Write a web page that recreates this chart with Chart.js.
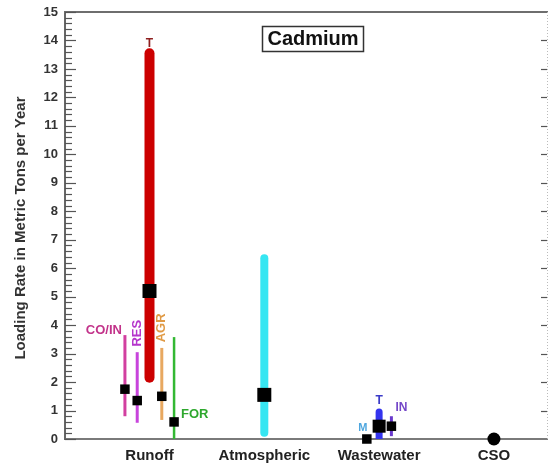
<!DOCTYPE html>
<html>
<head>
<meta charset="utf-8">
<script src="https://cdn.jsdelivr.net/npm/chart.js@4/dist/chart.umd.min.js"></script>
<style>
  html, body { margin: 0; padding: 0; background: #fff; }
  #wrap { width: 548px; height: 468px; }
</style>
</head>
<body>
<div id="wrap"><canvas id="c" width="548" height="468"></canvas></div>
<script>
// Cadmium loading rates (metric tons per year) by source type
const categories = ['Runoff', 'Atmospheric', 'Wastewater', 'CSO'];
const sourceNames = ['CO/IN', 'RES', 'T', 'AGR', 'FOR', 'ATM', 'M', 'T', 'IN', 'CSO'];
const sourceCategory = [0, 0, 0, 0, 0, 1, 2, 2, 2, 3];
const sourceSlot = [-2, -1, 0, 1, 2, 0, -1, 0, 1, 0];
const meanLoad = [1.75, 1.35, 5.2, 1.5, 0.6, 1.55, 0.0, 0.45, 0.45, 0.0];
const lowLoad = [0.8, 0.57, 2.15, 0.67, 0.0, 0.22, null, 0.0, 0.1, null];
const highLoad = [3.65, 3.05, 13.55, 3.2, 3.58, 6.35, null, 0.95, 0.8, null];
const yTickValues = [0, 1, 2, 3, 4, 5, 6, 7, 8, 9, 10, 11, 12, 13, 14, 15];

// drawing styles per source
const FONT = 'Arial, "Liberation Sans", sans-serif';
const SLOT_STEP = 0.107;
const rangeColor = ['#d23fa0', '#c844dc', '#cc0000', '#e8a860', '#33b833', '#36e6f2', null, '#3434ee', '#6a3acc', null];
const rangeWidth = [3, 3, 10, 3, 2.5, 8, 0, 7, 3, 0];
const rangeCap = ['butt', 'butt', 'round', 'butt', 'butt', 'round', 'butt', 'round', 'butt', 'butt'];
const markerSide = [9.5, 9.5, 14, 9.5, 9.5, 14, 9.5, 13, 9.5, 0];

const xOf = i => sourceCategory[i] + 1 + sourceSlot[i] * SLOT_STEP;

const datasets = [];
// mean markers, drawn on top
datasets.push({
  type: 'scatter',
  order: 0,
  clip: false,
  data: meanLoad.map((v, i) => ({ x: xOf(i), y: v })),
  pointStyle: sourceNames.map(n => n === 'CSO' ? 'circle' : 'rect'),
  pointRadius: sourceNames.map((n, i) => n === 'CSO' ? 6.5 : markerSide[i] / (2 * Math.SQRT1_2)),
  pointBackgroundColor: '#000',
  pointBorderWidth: 0,
  pointHoverRadius: 0
});
// min-max ranges
lowLoad.forEach((lo, i) => {
  if (lo === null) return;
  datasets.push({
    type: 'line',
    order: 1,
    clip: 0,
    data: [{ x: xOf(i), y: lo }, { x: xOf(i), y: highLoad[i] }],
    borderColor: rangeColor[i],
    borderWidth: rangeWidth[i],
    borderCapStyle: rangeCap[i],
    pointRadius: 0,
    fill: false
  });
});

// text labels next to the ranges: [source index, text, color, font px, anchor, dx, dy, rotated, align]
const sourceTags = [
  [0, 'CO/IN', '#c2338a', 13, 'high', -3, -5, false, 'right'],
  [1, 'RES', '#b535cc', 13, 'high', 0, -19, true, 'center'],
  [2, 'T', '#8e1f1f', 12, 'high', 0, -10, false, 'center'],
  [3, 'AGR', '#e09a45', 13, 'high', 0, -20, true, 'center'],
  [4, 'FOR', '#2ea82e', 13, 'mean', 7, -7, false, 'left'],
  [6, 'M', '#4ea6de', 11, 'mean', -4, -11, false, 'center'],
  [7, 'T', '#3b3bc8', 12, 'high', 0, -11, false, 'center'],
  [8, 'IN', '#7446c8', 12, 'high', 4, -9, false, 'left']
];

const decorations = {
  id: 'decorations',
  beforeDatasetsDraw(chart) {
    const { ctx, chartArea: a, scales: { y } } = chart;
    ctx.save();
    // top frame line
    ctx.strokeStyle = '#6e6e6e';
    ctx.lineWidth = 2;
    ctx.beginPath();
    ctx.moveTo(a.left - 1, a.top);
    ctx.lineTo(a.right, a.top);
    ctx.stroke();
    // right frame, faint dotted
    ctx.strokeStyle = '#bbbbbb';
    ctx.lineWidth = 1;
    ctx.setLineDash([1, 2]);
    ctx.beginPath();
    ctx.moveTo(a.right - 0.5, a.top);
    ctx.lineTo(a.right - 0.5, a.bottom);
    ctx.stroke();
    ctx.setLineDash([]);
    // inward ticks on the left (major + minor) and right (major)
    ctx.strokeStyle = '#555';
    ctx.lineWidth = 1.2;
    for (let k = 0; k <= 75; k++) {
      const v = k / 5;
      const py = Math.round(y.getPixelForValue(v)) + 0.5;
      const major = k % 5 === 0;
      ctx.beginPath();
      ctx.moveTo(a.left, py);
      ctx.lineTo(a.left + (major ? 11 : 7), py);
      ctx.stroke();
      if (major && k > 0 && k < 75) {
        ctx.beginPath();
        ctx.moveTo(a.right - 1, py);
        ctx.lineTo(a.right - 7, py);
        ctx.stroke();
      }
    }
    // y axis title
    ctx.fillStyle = '#333';
    ctx.font = 'bold 15px ' + FONT;
    ctx.textAlign = 'center';
    ctx.textBaseline = 'middle';
    ctx.translate(21, 228);
    ctx.rotate(-Math.PI / 2);
    ctx.fillText('Loading Rate in Metric Tons per Year', 0, 0);
    ctx.restore();
  },
  afterDatasetsDraw(chart) {
    const { ctx, scales: { x, y } } = chart;
    ctx.save();
    ctx.textBaseline = 'middle';
    sourceTags.forEach(([i, text, color, size, anchor, dx, dy, rotated, align]) => {
      const px = x.getPixelForValue(xOf(i)) + dx;
      const py = y.getPixelForValue(anchor === 'high' ? highLoad[i] : meanLoad[i]) + dy;
      ctx.fillStyle = color;
      ctx.font = 'bold ' + size + 'px ' + FONT;
      ctx.textAlign = align;
      if (rotated) {
        ctx.save();
        ctx.translate(px, py);
        ctx.rotate(-Math.PI / 2);
        ctx.fillText(text, 0, 0);
        ctx.restore();
      } else {
        ctx.fillText(text, px, py);
      }
    });
    // boxed element name
    ctx.font = 'bold 20px ' + FONT;
    ctx.fillStyle = '#111';
    ctx.textAlign = 'center';
    ctx.fillText('Cadmium', 313, 39);
    ctx.strokeStyle = '#333';
    ctx.lineWidth = 1.5;
    ctx.strokeRect(262.5, 26.5, 101, 25);
    ctx.restore();
  }
};

new Chart(document.getElementById('c'), {
  type: 'scatter',
  data: { datasets },
  options: {
    responsive: false,
    devicePixelRatio: 1,
    animation: false,
    events: [],
    layout: { autoPadding: false, padding: { top: 12, right: 0, left: 0, bottom: 0 } },
    plugins: { legend: { display: false }, tooltip: { enabled: false } },
    scales: {
      x: {
        type: 'linear',
        min: 0.264,
        max: 4.471,
        afterBuildTicks: s => { s.ticks = categories.map((c, i) => ({ value: i + 1 })); },
        afterFit: s => { s.height = 29; s.paddingLeft = 0; s.paddingRight = 0; },
        ticks: {
          autoSkip: false,
          maxRotation: 0,
          padding: 8,
          color: '#222',
          font: { family: FONT, size: 15, weight: 'bold' },
          callback: v => categories[Math.round(v) - 1]
        },
        grid: { display: false, drawTicks: false },
        border: { display: true, color: '#7a7a7a', width: 2 }
      },
      y: {
        min: 0,
        max: 15,
        afterBuildTicks: s => { s.ticks = yTickValues.map(v => ({ value: v })); },
        afterFit: s => { s.width = 65; s.paddingTop = 0; s.paddingBottom = 0; },
        ticks: {
          padding: 7,
          color: '#333',
          font: { family: FONT, size: 13, weight: 'bold' }
        },
        grid: { display: false, drawTicks: false },
        border: { display: true, color: '#666', width: 2 }
      }
    }
  },
  plugins: [decorations]
});
</script>
</body>
</html>
